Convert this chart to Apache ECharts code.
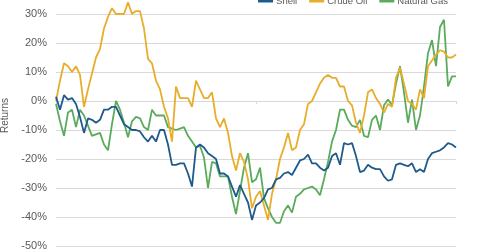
<!DOCTYPE html>
<html>
<head>
<meta charset="utf-8">
<script src="https://cdn.jsdelivr.net/npm/echarts@6/dist/echarts.min.js"></script>
<style>html,body{margin:0;padding:0;background:#fff;}#chart{width:480px;height:251px;}</style>
</head>
<body>
<div id="chart"></div>
<script>
var seriesNames = ['Shell', 'Crude Oil', 'Natural Gas'];
var yTicks = [-0.5, -0.4, -0.3, -0.2, -0.1, 0, 0.1, 0.2, 0.3, 0.4];

var shell = [1.5,-3,2,0.5,1,-1,-5.5,-11,-6,-6.5,-7.5,-6.5,-3,-3,-2,-2,-5,-8,-9,-10,
  -10,-10.5,-12.5,-14,-12,-14,-10,-10,-15,-22,-22,-21.5,-21.5,-25,-29.5,-16,-15,-16,-18,-19,
  -20,-25,-25,-26,-29.5,-33,-29,-32,-35,-41,-36,-35,-33.5,-30.5,-30,-27,-26.5,-25,-24.5,-25.5,
  -23,-20.5,-20,-18.5,-21.5,-21.5,-23,-24,-23,-19,-18,-22,-14.5,-15,-14.5,-19,-24.5,-24,-22,-23,
  -23.5,-23.5,-26,-27.5,-27,-22,-21.5,-22,-22.5,-21.5,-24.5,-23.5,-24.5,-20,-18,-17.5,-17,-16,-14.5,-15,-16];

var crude = [0,7,13,12,10,12,9,-2,4,9.5,15,18,25,29,32,30,30,30,34,30,
  31,31,25,14.5,13,7,4,-2,-6,-14,5,1,1,1,-2,7,4,1,1,3,
  -6,-9,-6,-11,-19,-24,-18,-21,-27,-37,-33,-31,-36,-41,-32,-27,-20,-16,-11,-17,
  -16,-10,-8,-1,0,3,6,8,9,8,8,5,5,0,-1.5,-7.5,-11,-5,3,4,
  1,-1,-4,-1,-2,8,11.5,6,0,-1,-3,4,1,12,14,16,17.5,17,15,15,16];

var gas = [-1,-7,-12,-4,-3,-9,-3,-5,-8.5,-12,-11.5,-11,-15,-17,-8,0,-3,-7.5,-12.5,-7,
  -5.5,-6,-9,-10,-3,-5,-5,-5,-9,-9.5,-10,-9.5,-9,-12,-14,-16,-15.5,-19.5,-30,-21,
  -21.5,-26,-26,-26,-33,-39,-31,-23,-18,-28,-27,-23,-33.5,-37,-40,-42,-42,-38,-36,-38.5,
  -33,-32,-30.5,-30,-29.5,-30.5,-32.5,-27,-21,-14,-10,-3,-3,-6.5,-8.5,-9,-6.5,-12,-12.5,-6.5,
  -5,-10,-1.5,0.5,-1.5,6,12,3,-7.5,0.5,-10,-5,5,16.5,21,12,25.5,28,5,8.5,8.5];

var categories = shell.map(function (_, i) { return i; });
function toFrac(a) { return a.map(function (v) { return v / 100; }); }

var chart = echarts.init(document.getElementById('chart'), null, {renderer: 'canvas'});
chart.setOption({
  animation: false,
  backgroundColor: '#ffffff',
  textStyle: {fontFamily: 'Liberation Sans, Arial, sans-serif'},
  legend: {
    data: seriesNames,
    right: 32,
    top: -4,
    padding: 0,
    icon: 'rect',
    itemWidth: 15,
    itemHeight: 3,
    itemGap: 12,
    textStyle: {color: '#595959', fontSize: 9.5, padding: [0, 0, 0, -2]}
  },
  grid: {left: 56, right: 24, top: -15, bottom: 5, containLabel: false, outerBoundsMode: 'none'},
  xAxis: {
    type: 'category',
    data: categories,
    boundaryGap: false,
    axisLine: {show: true, onZero: true, lineStyle: {color: '#d9d9d9', width: 1}},
    axisTick: {show: true, interval: 49, length: 3, inside: false, lineStyle: {color: '#d9d9d9'}},
    axisLabel: {show: false},
    splitLine: {show: false}
  },
  yAxis: {
    type: 'value',
    min: yTicks[0],
    max: yTicks[yTicks.length - 1],
    interval: 0.1,
    name: 'Returns',
    nameLocation: 'middle',
    nameGap: 35,
    nameTextStyle: {color: '#595959', fontSize: 10},
    axisLine: {show: false},
    axisTick: {show: false},
    axisLabel: {
      color: '#595959', fontSize: 11, margin: 9,
      formatter: function (v) { return Math.round(v * 100) + '%'; }
    },
    splitLine: {lineStyle: {color: '#d9d9d9', width: 1}}
  },
  series: [
    {name: seriesNames[0], type: 'line', data: toFrac(shell), showSymbol: false, symbol: 'none',
     lineStyle: {color: '#1f5a8c', width: 1.8}, itemStyle: {color: '#1f5a8c'}, z: 3},
    {name: seriesNames[1], type: 'line', data: toFrac(crude), showSymbol: false, symbol: 'none',
     lineStyle: {color: '#e8ad2a', width: 1.8}, itemStyle: {color: '#e8ad2a'}, z: 2},
    {name: seriesNames[2], type: 'line', data: toFrac(gas), showSymbol: false, symbol: 'none',
     lineStyle: {color: '#5aab5c', width: 1.8}, itemStyle: {color: '#5aab5c'}, z: 1}
  ]
});
</script>
</body>
</html>
